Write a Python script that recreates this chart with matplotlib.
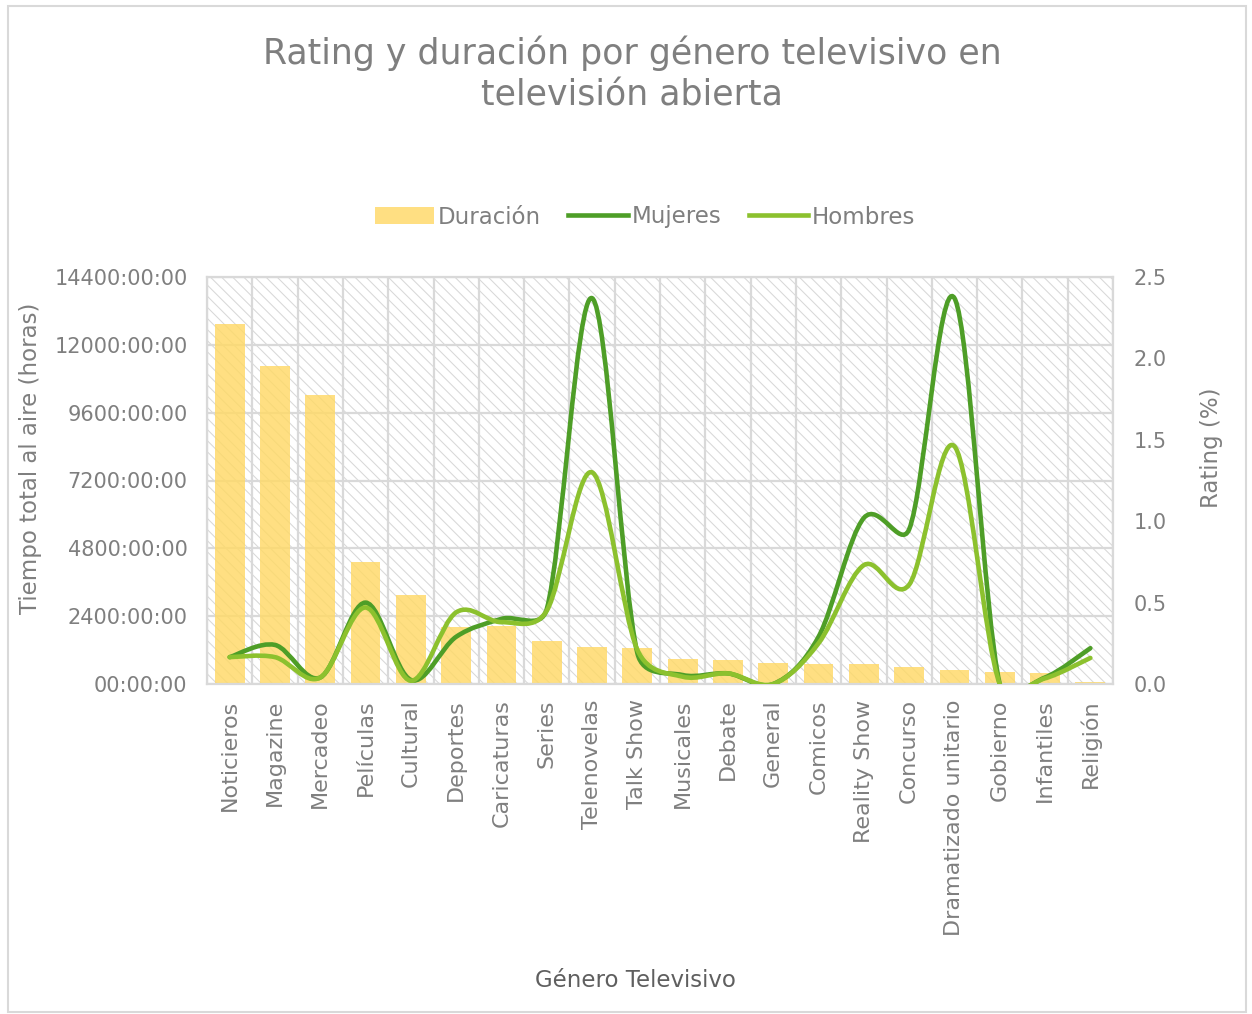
import matplotlib
matplotlib.use("Agg")
import matplotlib.pyplot as plt
import numpy as np
from matplotlib.path import Path
from matplotlib.patches import PathPatch, Rectangle, Patch
from matplotlib.lines import Line2D
from matplotlib.ticker import FuncFormatter, FixedLocator

plt.rcParams['font.family'] = ['DejaVu Sans']
plt.rcParams['hatch.linewidth'] = 0.75
plt.rcParams['hatch.color'] = '#d8d8d8'

categories = ["Noticieros", "Magazine", "Mercadeo", "Películas", "Cultural", "Deportes",
              "Caricaturas", "Series", "Telenovelas", "Talk Show", "Musicales", "Debate",
              "General", "Comicos", "Reality Show", "Concurso", "Dramatizado unitario",
              "Gobierno", "Infantiles", "Religión"]
duracion_horas = [12740, 11250, 10230, 4320, 3150, 2020, 2050, 1520, 1300, 1270,
                  880, 850, 740, 710, 700, 600, 500, 420, 390, 80]
mujeres = [0.165, 0.24, 0.04, 0.50, 0.025, 0.29, 0.40, 0.46, 2.37, 0.19,
           0.055, 0.065, 0.0, 0.29, 1.02, 0.95, 2.37, 0.0, 0.04, 0.22]
hombres = [0.165, 0.165, 0.04, 0.47, 0.02, 0.44, 0.38, 0.45, 1.30, 0.21,
           0.045, 0.065, 0.0, 0.25, 0.73, 0.61, 1.46, 0.0, 0.035, 0.16]
left_ticks = [0, 2400, 4800, 7200, 9600, 12000, 14400]
right_ticks = [0.0, 0.5, 1.0, 1.5, 2.0, 2.5]

TXT = '#7f7f7f'
GRID = '#d9d9d9'
C_BAR = '#FFD966'
C_MUJ = '#4E9E27'
C_HOM = '#8CC12E'

FIG_W, FIG_H = 1252, 1014
AX_L, AX_R, AX_T, AX_B = 207, 1113, 277, 684
N = len(categories)
Y2MAX = 2.5


def smooth_path(xs, ys, sx, sy):
    # Excel-like smoothed line: Catmull-Rom style cubic Bezier (tension 1/6),
    # with each control arm limited to half of its segment length (screen space).
    pts = np.column_stack([np.asarray(xs, float) * sx, np.asarray(ys, float) * sy])
    n = len(pts)
    verts = [pts[0]]
    codes = [Path.MOVETO]
    for i in range(n - 1):
        p0 = pts[i - 1] if i > 0 else pts[i]
        p1 = pts[i]
        p2 = pts[i + 1]
        p3 = pts[i + 2] if i + 2 < n else pts[i + 1]
        d12 = np.linalg.norm(p2 - p1)
        d02 = np.linalg.norm(p2 - p0)
        d13 = np.linalg.norm(p3 - p1)
        f1 = min(1 / 6, d12 / (2 * d02)) if d02 > 0 else 0
        f2 = min(1 / 6, d12 / (2 * d13)) if d13 > 0 else 0
        c1 = p1 + (p2 - p0) * f1
        c2 = p2 - (p3 - p1) * f2
        verts += [c1, c2, p2]
        codes += [Path.CURVE4] * 3
    verts = np.array(verts)
    verts[:, 0] /= sx
    verts[:, 1] /= sy
    return Path(verts, codes)


fig = plt.figure(figsize=(FIG_W / 100, FIG_H / 100), dpi=100)
fig.patches.append(Rectangle((8 / FIG_W, 2 / FIG_H), 1238 / FIG_W, 1006 / FIG_H,
                             transform=fig.transFigure, fill=False,
                             edgecolor='#d9d9d9', linewidth=1.5))

ax = fig.add_axes([AX_L / FIG_W, 1 - AX_B / FIG_H, (AX_R - AX_L) / FIG_W, (AX_B - AX_T) / FIG_H])
ax.patch.set_facecolor('white')
ax.patch.set_hatch('\\\\\\')
ax.patch.set_edgecolor('#d8d8d8')

x = np.arange(N)
ax.bar(x, duracion_horas, width=0.66, color=C_BAR, alpha=0.82, zorder=2)
ax.set_xlim(-0.5, N - 0.5)
ax.set_ylim(0, 14400)
ax.yaxis.set_major_locator(FixedLocator(left_ticks))
ax.yaxis.set_major_formatter(FuncFormatter(lambda v, p: f"{int(round(v)):02d}:00:00"))
ax.set_xticks(x)
ax.set_xticklabels(categories, rotation=90, va='top', ha='center', fontsize=16)
ax.xaxis.set_minor_locator(FixedLocator(np.arange(-0.5, N, 1.0)))
ax.grid(True, which='major', axis='y', color=GRID, linewidth=1.6, zorder=1)
ax.grid(True, which='minor', axis='x', color=GRID, linewidth=1.6, zorder=1)
ax.set_axisbelow(True)
ax.tick_params(axis='both', which='both', length=0, colors=TXT)
ax.tick_params(axis='y', labelsize=15, pad=14)
ax.tick_params(axis='x', pad=11)
for s in ax.spines.values():
    s.set_color(GRID)
    s.set_linewidth(1.6)

ax2 = ax.twinx()
ax2.set_xlim(-0.5, N - 0.5)
ax2.set_ylim(0, Y2MAX)
ax2.yaxis.set_major_locator(FixedLocator(right_ticks))
ax2.yaxis.set_major_formatter(FuncFormatter(lambda v, p: f"{v:.1f}"))
ax2.tick_params(axis='y', length=0, colors=TXT, labelsize=15, pad=15)
for s in ax2.spines.values():
    s.set_visible(False)

sx = (AX_R - AX_L) / N          # pixels per category
sy = (AX_B - AX_T) / Y2MAX      # pixels per rating unit
ax2.add_patch(PathPatch(smooth_path(x, mujeres, sx, sy), fill=False, edgecolor=C_MUJ,
                        linewidth=3.3, capstyle='round', joinstyle='round', zorder=3))
ax2.add_patch(PathPatch(smooth_path(x, hombres, sx, sy), fill=False, edgecolor=C_HOM,
                        linewidth=3.3, capstyle='round', joinstyle='round', zorder=4))

ax.set_ylabel("Tiempo total al aire (horas)", color=TXT, fontsize=16.5)
ax.yaxis.set_label_coords(-0.182, 0.555)
ax2.set_ylabel("Rating (%)", color=TXT, fontsize=16.5)
ax2.yaxis.set_label_coords(1.096, 0.58)
ax.set_xlabel("Género Televisivo", color='#5f5f5f', fontsize=16.5)
ax.xaxis.set_label_coords(0.473, -0.70)

fig.text(0.505, 1 - 74 / FIG_H, "Rating y duración por género televisivo en\ntelevisión abierta",
         ha='center', va='center', fontsize=25, color=TXT, linespacing=1.3)

handles = [Patch(facecolor=C_BAR, alpha=0.82, edgecolor='none'),
           Line2D([], [], color=C_MUJ, linewidth=3.3),
           Line2D([], [], color=C_HOM, linewidth=3.3)]
fig.legend(handles, ["Duración", "Mujeres", "Hombres"], loc='center',
           bbox_to_anchor=(645 / FIG_W, 1 - 217 / FIG_H), ncol=3, frameon=False,
           fontsize=16.5, labelcolor=TXT, handlelength=2.6, handletextpad=0.15,
           columnspacing=1.2)

fig.savefig("out.png", dpi=100)
